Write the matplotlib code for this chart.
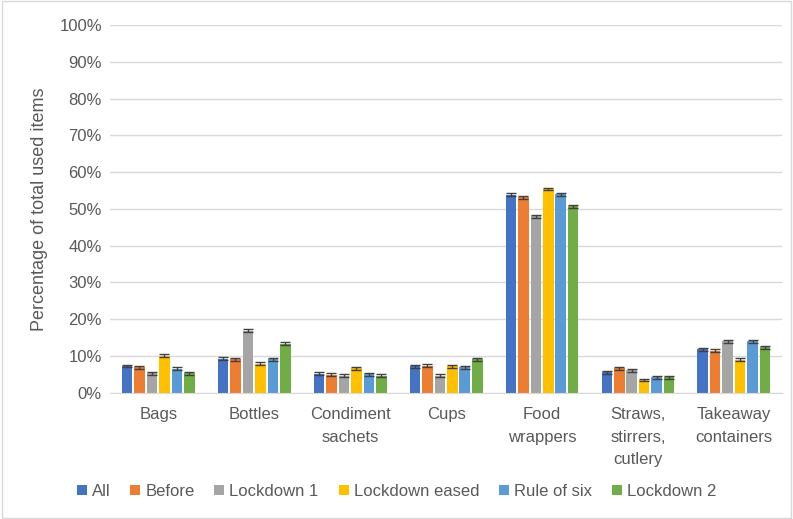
import matplotlib
matplotlib.use("Agg")
import matplotlib.pyplot as plt
import numpy as np
from matplotlib.patches import Rectangle

plt.rcParams['font.family'] = ['Liberation Sans', 'DejaVu Sans']

categories = ["Bags", "Bottles", "Condiment\nsachets", "Cups", "Food\nwrappers",
              "Straws,\nstirrers,\ncutlery", "Takeaway\ncontainers"]
series_names = ["All", "Before", "Lockdown 1", "Lockdown eased", "Rule of six", "Lockdown 2"]
colors = ["#4472C4", "#ED7D31", "#A5A5A5", "#FFC000", "#5B9BD5", "#70AD47"]

all_vals       = [7.3, 9.3, 5.2, 7.2, 53.8, 5.6, 11.8]
before_vals    = [7.0, 9.2, 4.9, 7.4, 53.1, 6.7, 11.5]
lockdown1_vals = [5.3, 16.9, 4.7, 4.7, 48.0, 6.2, 14.0]
eased_vals     = [10.1, 7.9, 6.7, 7.2, 55.4, 3.5, 9.0]
rule6_vals     = [6.5, 9.2, 5.1, 6.9, 54.0, 4.2, 14.0]
lockdown2_vals = [5.3, 13.3, 4.6, 9.1, 50.7, 4.3, 12.4]
err = 0.4

series = [all_vals, before_vals, lockdown1_vals, eased_vals, rule6_vals, lockdown2_vals]

fig = plt.figure(figsize=(7.93, 5.19), dpi=100)
ax = fig.add_axes([0.139, 0.243, 0.847, 0.709])

x = np.arange(len(categories))
step = 0.13
width = 0.11
for i, (name, vals, c) in enumerate(zip(series_names, series, colors)):
    pos = x + (i - 2.5) * step
    ax.bar(pos, vals, width=width, color=c, label=name, zorder=2,
           yerr=err, error_kw=dict(ecolor="#404040", elinewidth=1.0, capsize=3.5, capthick=1.0))

ax.set_xlim(-0.5, len(categories) - 0.5)
ax.set_ylim(0, 100)
ax.set_yticks(np.arange(0, 101, 10))
ax.set_yticklabels([f"{v}%" for v in range(0, 101, 10)])
ax.yaxis.grid(True, color="#D9D9D9", linewidth=1, zorder=0)
ax.set_axisbelow(True)
for s in ["top", "right", "left"]:
    ax.spines[s].set_visible(False)
ax.spines["bottom"].set_color("#D9D9D9")
ax.tick_params(axis="y", length=0, labelsize=12, colors="#595959", pad=6)
ax.tick_params(axis="x", length=0, labelsize=12, colors="#595959", pad=10)
ax.set_xticks(x)
ax.set_xticklabels(categories, va="top", linespacing=1.65)
ax.set_ylabel("Percentage of total used items", fontsize=13, color="#595959", labelpad=8)

leg = fig.legend(loc="lower center", bbox_to_anchor=(0.5, 0.01), ncol=6, frameon=False,
                 fontsize=12, handlelength=0.6, handleheight=0.6, handletextpad=0.3,
                 columnspacing=1.2, labelcolor="#595959")

fig.patches.append(Rectangle((0.002, 0.002), 0.996, 0.996, transform=fig.transFigure,
                             fill=False, edgecolor="#D9D9D9", linewidth=1))
fig.savefig("out.png", dpi=100)
